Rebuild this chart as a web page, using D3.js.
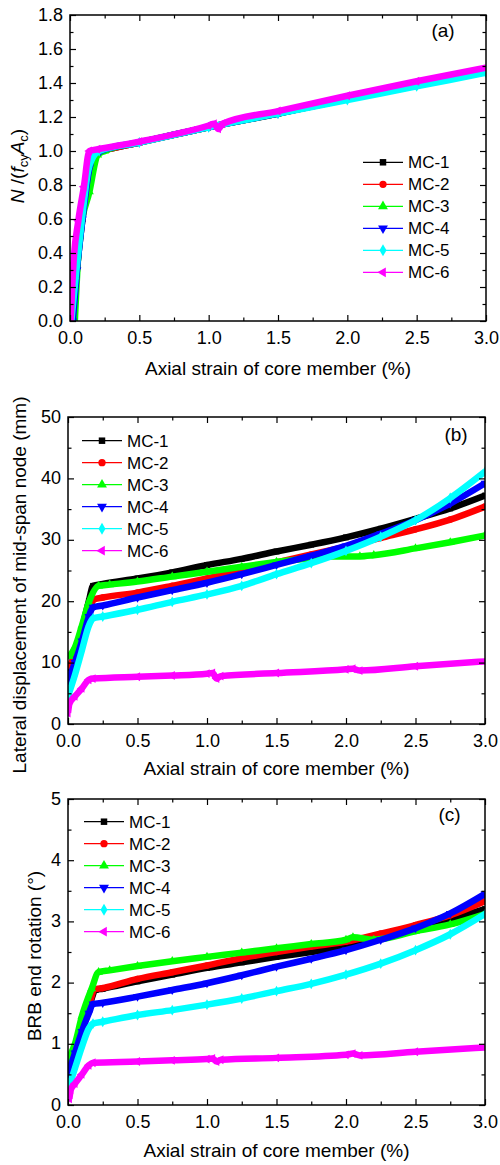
<!DOCTYPE html>
<html>
<head>
<meta charset="utf-8">
<script src="https://cdn.jsdelivr.net/npm/d3@7"></script>
<style>
  html, body { margin: 0; padding: 0; background: #fff; }
  svg text { font-family: "Liberation Sans", Arial, sans-serif; fill: #000; }
</style>
</head>
<body>
<svg id="chart" width="500" height="1165"></svg>
<script>
// Specimen names, colours and marker shapes
const specimens = ["MC-1", "MC-2", "MC-3", "MC-4", "MC-5", "MC-6"];
const colors = ["#000000", "#ff0000", "#00ff00", "#0000ff", "#00ffff", "#ff00ff"];
const markers = ["square", "circle", "triangleUp", "triangleDown", "diamond", "triangleLeft"];

// Axis tick values
const strainTicks = [0, 0.5, 1.0, 1.5, 2.0, 2.5, 3.0];
const forceTicks = [0, 0.2, 0.4, 0.6, 0.8, 1.0, 1.2, 1.4, 1.6, 1.8];
const dispTicks = [0, 10, 20, 30, 40, 50];
const rotTicks = [0, 1, 2, 3, 4, 5];

// (a) normalised axial force N/(fcy Ac) vs axial strain (%)
const forceMC1 = [[0.02,0],[0.05,0.3],[0.09,0.6],[0.13,0.85],[0.17,0.99],[0.22,1.0],[0.5,1.05],[1.0,1.14],[1.5,1.22],[2.0,1.31],[2.5,1.39],[3.0,1.475]];
const forceMC2 = [[0.02,0],[0.05,0.35],[0.09,0.62],[0.14,0.9],[0.17,0.99],[0.22,1.0],[0.5,1.05],[1.0,1.14],[1.5,1.225],[2.0,1.31],[2.5,1.39],[3.0,1.475]];
const forceMC3 = [[0.035,0],[0.07,0.5],[0.14,0.76],[0.2,0.977],[0.25,1.0],[0.5,1.05],[1.0,1.14],[1.5,1.22],[2.0,1.305],[2.5,1.385],[3.0,1.47]];
const forceMC4 = [[0.02,0],[0.05,0.3],[0.09,0.6],[0.14,0.9],[0.17,0.98],[0.22,1.0],[0.5,1.05],[1.0,1.14],[1.5,1.22],[2.0,1.305],[2.5,1.385],[3.0,1.465]];
const forceMC5 = [[0.01,0],[0.04,0.25],[0.085,0.59],[0.13,0.88],[0.17,0.97],[0.21,1.0],[0.5,1.05],[1.0,1.14],[1.5,1.22],[2.0,1.3],[2.5,1.38],[3.0,1.46]];
const forceMC6 = [[0.005,0],[0.025,0.34],[0.06,0.59],[0.1,0.79],[0.14,1.0],[0.2,1.01],[0.5,1.055],[1.0,1.15],[1.04,1.16],[1.07,1.13],[1.1,1.16],[1.5,1.235],[2.0,1.325],[2.5,1.41],[3.0,1.49]];

// (b) lateral displacement of mid-span node (mm) vs axial strain (%)
const dispMC1 = [[0.01,9.0],[0.05,11.5],[0.1,15.5],[0.15,20.0],[0.18,22.5],[0.25,22.8],[0.5,23.7],[0.75,24.7],[1.0,25.9],[1.25,26.9],[1.5,28.1],[1.75,29.2],[2.0,30.4],[2.25,31.8],[2.5,33.4],[2.75,35.1],[3.0,37.2]];
const dispMC2 = [[0.01,9.5],[0.05,11.0],[0.1,14.5],[0.15,18.5],[0.19,20.3],[0.25,20.6],[0.5,21.4],[0.75,22.5],[1.0,23.7],[1.25,25.0],[1.5,26.3],[1.75,27.6],[2.0,28.9],[2.25,30.3],[2.5,31.7],[2.75,33.3],[3.0,35.4]];
const dispMC3 = [[0.01,11.0],[0.05,12.5],[0.1,16.0],[0.15,19.8],[0.22,22.5],[0.3,22.7],[0.5,23.2],[0.75,24.0],[1.0,24.8],[1.25,25.6],[1.5,26.4],[1.75,27.0],[1.9,27.3],[2.1,27.3],[2.2,27.5],[2.5,28.6],[2.75,29.6],[3.0,30.7]];
const dispMC4 = [[0.0,7.0],[0.05,10.0],[0.1,13.5],[0.15,17.5],[0.18,19.0],[0.25,19.3],[0.5,20.6],[0.75,21.8],[1.0,23.0],[1.25,24.4],[1.5,25.9],[1.75,27.4],[2.0,29.0],[2.25,31.0],[2.5,33.2],[2.75,35.9],[3.0,39.2]];
const dispMC5 = [[0.0,4.5],[0.05,8.0],[0.1,12.0],[0.15,16.0],[0.18,17.2],[0.25,17.5],[0.5,18.6],[0.75,19.9],[1.0,21.1],[1.25,22.5],[1.5,24.4],[1.75,26.2],[2.0,28.2],[2.25,30.5],[2.5,33.2],[2.75,36.8],[3.0,41.1]];
const dispMC6 = [[0.0,1.8],[0.01,3.3],[0.05,4.5],[0.1,5.8],[0.15,7.2],[0.18,7.4],[0.5,7.7],[0.75,7.9],[1.0,8.2],[1.04,8.3],[1.07,7.4],[1.1,7.8],[1.5,8.3],[2.0,8.9],[2.05,9.0],[2.1,8.7],[2.5,9.4],[3.0,10.2]];

// (c) BRB end rotation (degrees) vs axial strain (%)
const rotMC1 = [[0.01,0.7],[0.05,0.95],[0.1,1.3],[0.15,1.6],[0.2,1.88],[0.25,1.9],[0.5,2.02],[0.75,2.13],[1.0,2.24],[1.25,2.33],[1.5,2.42],[1.75,2.5],[2.0,2.59],[2.25,2.73],[2.5,2.88],[2.75,3.04],[3.0,3.2]];
const rotMC2 = [[0.01,0.65],[0.05,0.95],[0.1,1.3],[0.15,1.6],[0.19,1.89],[0.25,1.91],[0.5,2.06],[0.75,2.17],[1.0,2.28],[1.25,2.4],[1.5,2.5],[1.75,2.59],[2.0,2.67],[2.25,2.8],[2.5,2.94],[2.75,3.1],[3.0,3.33]];
const rotMC3 = [[0.0,0.75],[0.05,1.0],[0.1,1.45],[0.17,1.9],[0.22,2.17],[0.3,2.2],[0.5,2.27],[0.75,2.35],[1.0,2.42],[1.25,2.49],[1.5,2.56],[1.75,2.63],[2.0,2.7],[2.05,2.74],[2.2,2.7],[2.5,2.84],[2.75,2.95],[3.0,3.12]];
const rotMC4 = [[0.0,0.5],[0.05,0.85],[0.1,1.2],[0.15,1.5],[0.18,1.65],[0.25,1.67],[0.5,1.77],[0.75,1.88],[1.0,1.99],[1.25,2.12],[1.5,2.26],[1.75,2.39],[2.0,2.53],[2.25,2.7],[2.5,2.89],[2.75,3.13],[3.0,3.45]];
const rotMC5 = [[0.0,0.25],[0.05,0.6],[0.1,0.95],[0.15,1.25],[0.18,1.33],[0.25,1.36],[0.5,1.47],[0.75,1.55],[1.0,1.64],[1.25,1.74],[1.5,1.86],[1.75,1.98],[2.0,2.13],[2.25,2.31],[2.5,2.53],[2.75,2.79],[3.0,3.12]];
const rotMC6 = [[0.01,0.1],[0.02,0.25],[0.05,0.35],[0.1,0.5],[0.15,0.65],[0.18,0.69],[0.5,0.71],[0.75,0.73],[1.0,0.75],[1.04,0.76],[1.07,0.71],[1.1,0.74],[1.5,0.77],[2.0,0.82],[2.05,0.84],[2.1,0.81],[2.5,0.87],[3.0,0.94]];

const svg = d3.select("#chart");

function markerPath(kind, size) {
  const map = {
    square: d3.symbolSquare, circle: d3.symbolCircle, diamond: d3.symbolDiamond,
    triangleUp: d3.symbolTriangle, triangleDown: d3.symbolTriangle, triangleLeft: d3.symbolTriangle
  };
  return d3.symbol().type(map[kind]).size(size)();
}
function markerRotation(kind) {
  if (kind === "triangleDown") return 180;
  if (kind === "triangleLeft") return -90;
  return 0;
}

function drawPanel(cfg) {
  const x = d3.scaleLinear().domain([0, 3]).range([cfg.left, cfg.right]);
  const y = d3.scaleLinear().domain([0, cfg.yMax]).range([cfg.bottom, cfg.top]);
  const g = svg.append("g");

  const clipId = "clip-" + cfg.id;
  svg.append("clipPath").attr("id", clipId)
    .append("rect")
    .attr("x", cfg.left).attr("y", cfg.top)
    .attr("width", cfg.right - cfg.left).attr("height", cfg.bottom - cfg.top);

  // curves: dense marker bands rendered as thick strokes with markers at data points
  const line = d3.line().x(d => x(d[0])).y(d => y(d[1])).curve(d3.curveMonotoneX);
  const plot = g.append("g").attr("clip-path", `url(#${clipId})`);
  cfg.series.forEach((data, i) => {
    plot.append("path")
      .attr("d", line(data))
      .attr("fill", "none")
      .attr("stroke", colors[i])
      .attr("stroke-width", 6.5)
      .attr("stroke-linejoin", "round");
    plot.selectAll(null).data(data).enter().append("path")
      .attr("d", markerPath(markers[i], 34))
      .attr("transform", d => `translate(${x(d[0])},${y(d[1])}) rotate(${markerRotation(markers[i])})`)
      .attr("fill", colors[i]);
  });

  // axes: major ticks with labels on bottom/left, inward ticks on every side
  const minorX = d3.range(0, 3.0001, 0.25).filter(v => Math.abs(v * 2 - Math.round(v * 2)) > 1e-6);
  const minorY = cfg.yTicks.slice(1).map((v, k) => (v + cfg.yTicks[k]) / 2);

  const axisStyle = sel => {
    sel.select(".domain").remove();
    sel.selectAll("line").attr("stroke", "#000").attr("stroke-width", 1.2);
    sel.selectAll("text").style("font-size", "18px").style("font-family", '"Liberation Sans", Arial, sans-serif');
  };

  g.append("g").attr("transform", `translate(0,${cfg.bottom})`)
    .call(d3.axisBottom(x).tickValues(strainTicks).tickFormat(d3.format(".1f")).tickSize(-6).tickPadding(10))
    .call(axisStyle);
  g.append("g").attr("transform", `translate(0,${cfg.bottom})`)
    .call(d3.axisBottom(x).tickValues(minorX).tickFormat("").tickSize(-3.5))
    .call(axisStyle);
  g.append("g").attr("transform", `translate(0,${cfg.top})`)
    .call(d3.axisTop(x).tickValues(strainTicks).tickFormat("").tickSize(-6))
    .call(axisStyle);
  g.append("g").attr("transform", `translate(0,${cfg.top})`)
    .call(d3.axisTop(x).tickValues(minorX).tickFormat("").tickSize(-3.5))
    .call(axisStyle);

  g.append("g").attr("transform", `translate(${cfg.left},0)`)
    .call(d3.axisLeft(y).tickValues(cfg.yTicks).tickFormat(cfg.yFormat).tickSize(-6).tickPadding(7))
    .call(axisStyle)
    .call(sel => sel.selectAll("text").attr("dy", "0.28em"));
  g.append("g").attr("transform", `translate(${cfg.left},0)`)
    .call(d3.axisLeft(y).tickValues(minorY).tickFormat("").tickSize(-3.5))
    .call(axisStyle);
  g.append("g").attr("transform", `translate(${cfg.right},0)`)
    .call(d3.axisRight(y).tickValues(cfg.yTicks).tickFormat("").tickSize(-6))
    .call(axisStyle);
  g.append("g").attr("transform", `translate(${cfg.right},0)`)
    .call(d3.axisRight(y).tickValues(minorY).tickFormat("").tickSize(-3.5))
    .call(axisStyle);

  // frame
  g.append("rect")
    .attr("x", cfg.left).attr("y", cfg.top)
    .attr("width", cfg.right - cfg.left).attr("height", cfg.bottom - cfg.top)
    .attr("fill", "none").attr("stroke", "#000").attr("stroke-width", 1.5);

  // axis titles
  g.append("text")
    .attr("x", (cfg.left + cfg.right) / 2).attr("y", cfg.xTitleY)
    .attr("text-anchor", "middle").style("font-size", "19px")
    .text("Axial strain of core member (%)");

  const yt = g.append("text")
    .attr("transform", `translate(${cfg.yTitleX},${cfg.yTitleY}) rotate(-90)`)
    .attr("text-anchor", "middle").style("font-size", "19px");
  cfg.yTitle(yt);

  // panel tag
  g.append("text")
    .attr("x", cfg.tag[0]).attr("y", cfg.tag[1])
    .attr("text-anchor", "middle").style("font-size", "19px")
    .text(cfg.tag[2]);

  // legend
  const lg = g.append("g");
  specimens.forEach((name, i) => {
    const yy = cfg.legend.y + i * 22;
    lg.append("line")
      .attr("x1", cfg.legend.x).attr("x2", cfg.legend.x + 40)
      .attr("y1", yy).attr("y2", yy)
      .attr("stroke", colors[i]).attr("stroke-width", 1.3);
    lg.append("path")
      .attr("d", markerPath(markers[i], 42))
      .attr("transform", `translate(${cfg.legend.x + 20},${yy}) rotate(${markerRotation(markers[i])})`)
      .attr("fill", colors[i]);
    lg.append("text")
      .attr("x", cfg.legend.x + 45).attr("y", yy).attr("dy", "0.36em")
      .style("font-size", "17px")
      .text(name);
  });
}

drawPanel({
  id: "a", left: 70, right: 486, top: 15, bottom: 321,
  yMax: 1.8, yTicks: forceTicks, yFormat: d3.format(".1f"),
  series: [forceMC1, forceMC2, forceMC3, forceMC4, forceMC5, forceMC6],
  xTitleY: 375, yTitleX: 24, yTitleY: 166,
  yTitle: t => {
    t.append("tspan").style("font-style", "italic").text("N");
    t.append("tspan").text(" /(");
    t.append("tspan").style("font-style", "italic").text("f");
    t.append("tspan").attr("dy", 4).style("font-size", "13px").text("cy");
    t.append("tspan").attr("dy", -4).style("font-style", "italic").text("A");
    t.append("tspan").attr("dy", 4).style("font-size", "13px").text("c");
    t.append("tspan").attr("dy", -4).text(")");
  },
  tag: [443, 37, "(a)"],
  legend: { x: 363, y: 162.3 }
});

drawPanel({
  id: "b", left: 68, right: 485, top: 417, bottom: 724,
  yMax: 50, yTicks: dispTicks, yFormat: d3.format("d"),
  series: [dispMC1, dispMC2, dispMC3, dispMC4, dispMC5, dispMC6],
  xTitleY: 775, yTitleX: 26, yTitleY: 585,
  yTitle: t => t.text("Lateral displacement of mid-span node (mm)"),
  tag: [456, 441, "(b)"],
  legend: { x: 82, y: 440.7 }
});

drawPanel({
  id: "c", left: 68, right: 485, top: 799, bottom: 1105,
  yMax: 5, yTicks: rotTicks, yFormat: d3.format("d"),
  series: [rotMC1, rotMC2, rotMC3, rotMC4, rotMC5, rotMC6],
  xTitleY: 1157, yTitleX: 40.5, yTitleY: 956,
  yTitle: t => t.text("BRB end rotation (°)"),
  tag: [449.5, 821, "(c)"],
  legend: { x: 84, y: 821.7 }
});
</script>
</body>
</html>
